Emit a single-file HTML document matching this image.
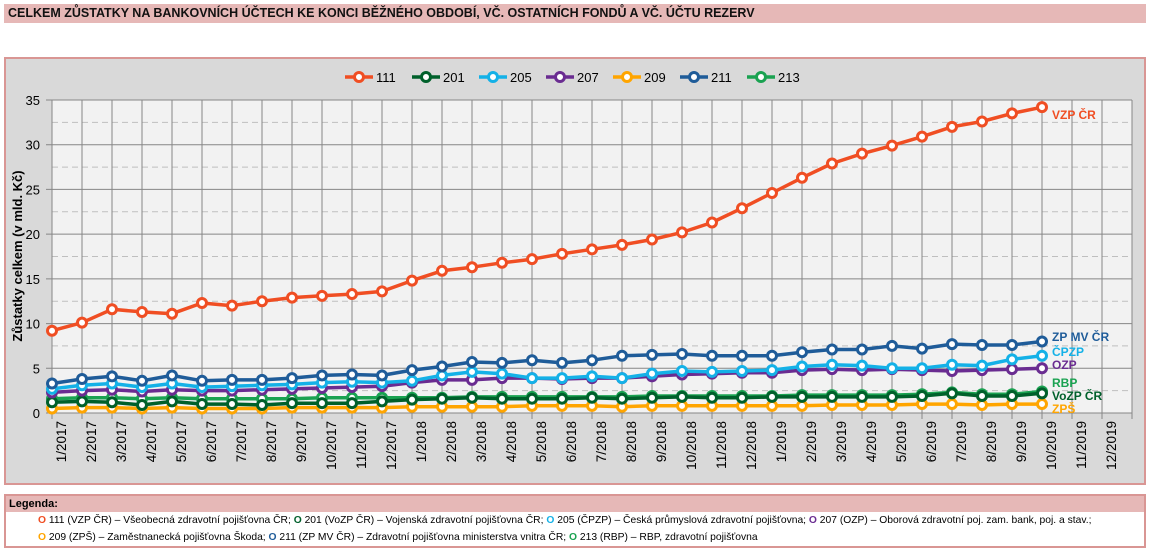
<!DOCTYPE html>
<html><head><meta charset="utf-8"><style>
body{margin:0;width:1152px;height:552px;background:#fff;font-family:"Liberation Sans",sans-serif;position:relative;overflow:hidden}
.t{position:absolute;left:4px;top:4px;width:1142px;height:19px;background:#e6b8b7;font-weight:bold;font-size:12.5px;line-height:19px;padding-left:4px;box-sizing:border-box;color:#111}
.lg{position:absolute;left:4px;top:494px;width:1142px;height:54px;border:2px solid #d99694;box-sizing:border-box;font-size:10.3px}
.lg .h{background:#e6b8b7;height:16px;line-height:16px;padding-left:3px;font-weight:bold;font-size:11px}
.lg .r{padding-left:32px;height:16px;line-height:16px;margin-top:1px;white-space:nowrap}
.o{font-weight:bold}
</style></head><body>
<div class="t">CELKEM ZŮSTATKY NA BANKOVNÍCH ÚČTECH KE KONCI BĚŽNÉHO OBDOBÍ, VČ. OSTATNÍCH FONDŮ A VČ. ÚČTU REZERV</div>
<svg id="s" width="1152" height="552" style="position:absolute;left:0;top:0"></svg>
<div class="lg"><div class="h">Legenda:</div>
<div class="r"><span class="o" style="color:#f04e23">O</span> 111 (VZP ČR) – Všeobecná zdravotní pojišťovna ČR; <span class="o" style="color:#00602b">O</span> 201 (VoZP ČR) – Vojenská zdravotní pojišťovna ČR; <span class="o" style="color:#14b1e7">O</span> 205 (ČPZP) – Česká průmyslová zdravotní pojišťovna; <span class="o" style="color:#6a2c91">O</span> 207 (OZP) – Oborová zdravotní poj. zam. bank, poj. a stav.;</div>
<div class="r"><span class="o" style="color:#ffa500">O</span> 209 (ZPŠ) – Zaměstnanecká pojišťovna Škoda; <span class="o" style="color:#1f5c99">O</span> 211 (ZP MV ČR) – Zdravotní pojišťovna ministerstva vnitra ČR; <span class="o" style="color:#1aa251">O</span> 213 (RBP) – RBP, zdravotní pojišťovna</div>
</div>
<script>
var s=document.getElementById('s'),h='';
h+='<rect x="5" y="58" width="1140" height="426" fill="#d9d9d9" stroke="#d99694" stroke-width="2"/>';
h+='<rect x="52" y="100" width="1080" height="313" fill="#f2f2f2"/>';
function Y(v){return 413-v*313/35}
for(var v=0;v<=35;v+=2.5){var y=Y(v);if(v%5==0){h+='<line x1="46" x2="1132" y1="'+y+'" y2="'+y+'" stroke="#868686"/>';h+='<text x="40" y="'+(y+5)+'" font-size="13" text-anchor="end">'+v+'</text>'}else h+='<line x1="52" x2="1132" y1="'+y+'" y2="'+y+'" stroke="#bfbfbf" stroke-dasharray="6,4"/>'}
for(var i=0;i<=36;i++){var x=52+30*i;h+='<line x1="'+x+'" x2="'+x+'" y1="100" y2="419" stroke="#868686"/>';
if(i<36){var m=(i%12)+1,yr=2017+Math.floor(i/12);h+='<text transform="translate('+(x+14)+',421) rotate(-90)" font-size="13.5" text-anchor="end">'+m+'/'+yr+'</text>'}}
h+='<text transform="translate(22,256) rotate(-90)" font-size="13" font-weight="bold" text-anchor="middle">Zůstatky celkem (v mld. Kč)</text>';
var D=[
['111','#f04e23',[9.2,10.1,11.6,11.3,11.1,12.3,12.0,12.5,12.9,13.1,13.3,13.6,14.8,15.9,16.3,16.8,17.2,17.8,18.3,18.8,19.4,20.2,21.3,22.9,24.6,26.3,27.9,29.0,29.9,30.9,32.0,32.6,33.5,34.2],'VZP ČR',115],
['213','#1aa251',[1.6,1.7,1.7,1.6,1.7,1.6,1.6,1.6,1.6,1.7,1.7,1.7,1.7,1.7,1.8,1.8,1.8,1.8,1.8,1.8,1.9,1.9,1.9,1.9,1.9,2.0,2.0,2.0,2.0,2.1,2.3,2.1,2.1,2.4],'RBP',383],
['209','#ffa500',[0.5,0.6,0.6,0.5,0.6,0.5,0.5,0.5,0.6,0.6,0.6,0.6,0.7,0.7,0.7,0.7,0.8,0.8,0.8,0.7,0.8,0.8,0.8,0.8,0.8,0.8,0.9,0.9,0.9,1.0,1.0,0.9,1.0,1.0],'ZPŠ',409],
['201','#00602b',[1.2,1.3,1.2,0.9,1.3,1.0,1.0,0.9,1.1,1.1,1.1,1.3,1.5,1.6,1.7,1.6,1.6,1.6,1.7,1.6,1.7,1.8,1.7,1.7,1.8,1.8,1.8,1.8,1.8,1.9,2.2,1.9,1.9,2.2],'VoZP ČR',396],
['207','#6a2c91',[2.3,2.5,2.6,2.4,2.6,2.5,2.5,2.6,2.7,2.8,2.9,3.0,3.4,3.7,3.7,3.9,3.9,3.8,3.9,3.9,4.1,4.3,4.4,4.5,4.5,4.8,4.9,4.8,4.9,4.8,4.7,4.8,4.9,5.0],'OZP',365],
['205','#14b1e7',[2.7,3.1,3.3,2.9,3.3,2.9,3.0,3.1,3.2,3.4,3.5,3.4,3.6,4.2,4.6,4.4,3.9,3.9,4.1,3.9,4.4,4.7,4.6,4.7,4.8,5.2,5.4,5.3,5.0,5.0,5.4,5.3,6.0,6.4],'ČPZP',352],
['211','#1f5c99',[3.3,3.8,4.1,3.6,4.2,3.6,3.7,3.7,3.9,4.2,4.3,4.2,4.8,5.2,5.7,5.6,5.9,5.6,5.9,6.4,6.5,6.6,6.4,6.4,6.4,6.8,7.1,7.1,7.5,7.2,7.7,7.6,7.6,8.0],'ZP MV ČR',337]];
D.forEach(function(d){var p=d[2].map(function(v,i){return (52+30*i)+','+Y(v).toFixed(1)}).join(' ');
h+='<polyline points="'+p+'" fill="none" stroke="'+d[1]+'" stroke-width="3.5" stroke-linejoin="round"/>';
d[2].forEach(function(v,i){h+='<circle cx="'+(52+30*i)+'" cy="'+Y(v)+'" r="4.5" fill="#fff" stroke="'+d[1]+'" stroke-width="3"/>'});
h+='<text x="1052" y="'+(d[4]+4)+'" font-size="12" font-weight="bold" fill="'+d[1]+'">'+d[3]+'</text>'});
var L=[['111','#f04e23'],['201','#00602b'],['205','#14b1e7'],['207','#6a2c91'],['209','#ffa500'],['211','#1f5c99'],['213','#1aa251']];
L.forEach(function(l,i){var x=345+67*i;h+='<line x1="'+x+'" x2="'+(x+28)+'" y1="77" y2="77" stroke="'+l[1]+'" stroke-width="3.5"/><circle cx="'+(x+14)+'" cy="77" r="4.5" fill="#fff" stroke="'+l[1]+'" stroke-width="3"/><text x="'+(x+31)+'" y="82" font-size="13">'+l[0]+'</text>'});
s.innerHTML=h;
</script>
</body></html>
